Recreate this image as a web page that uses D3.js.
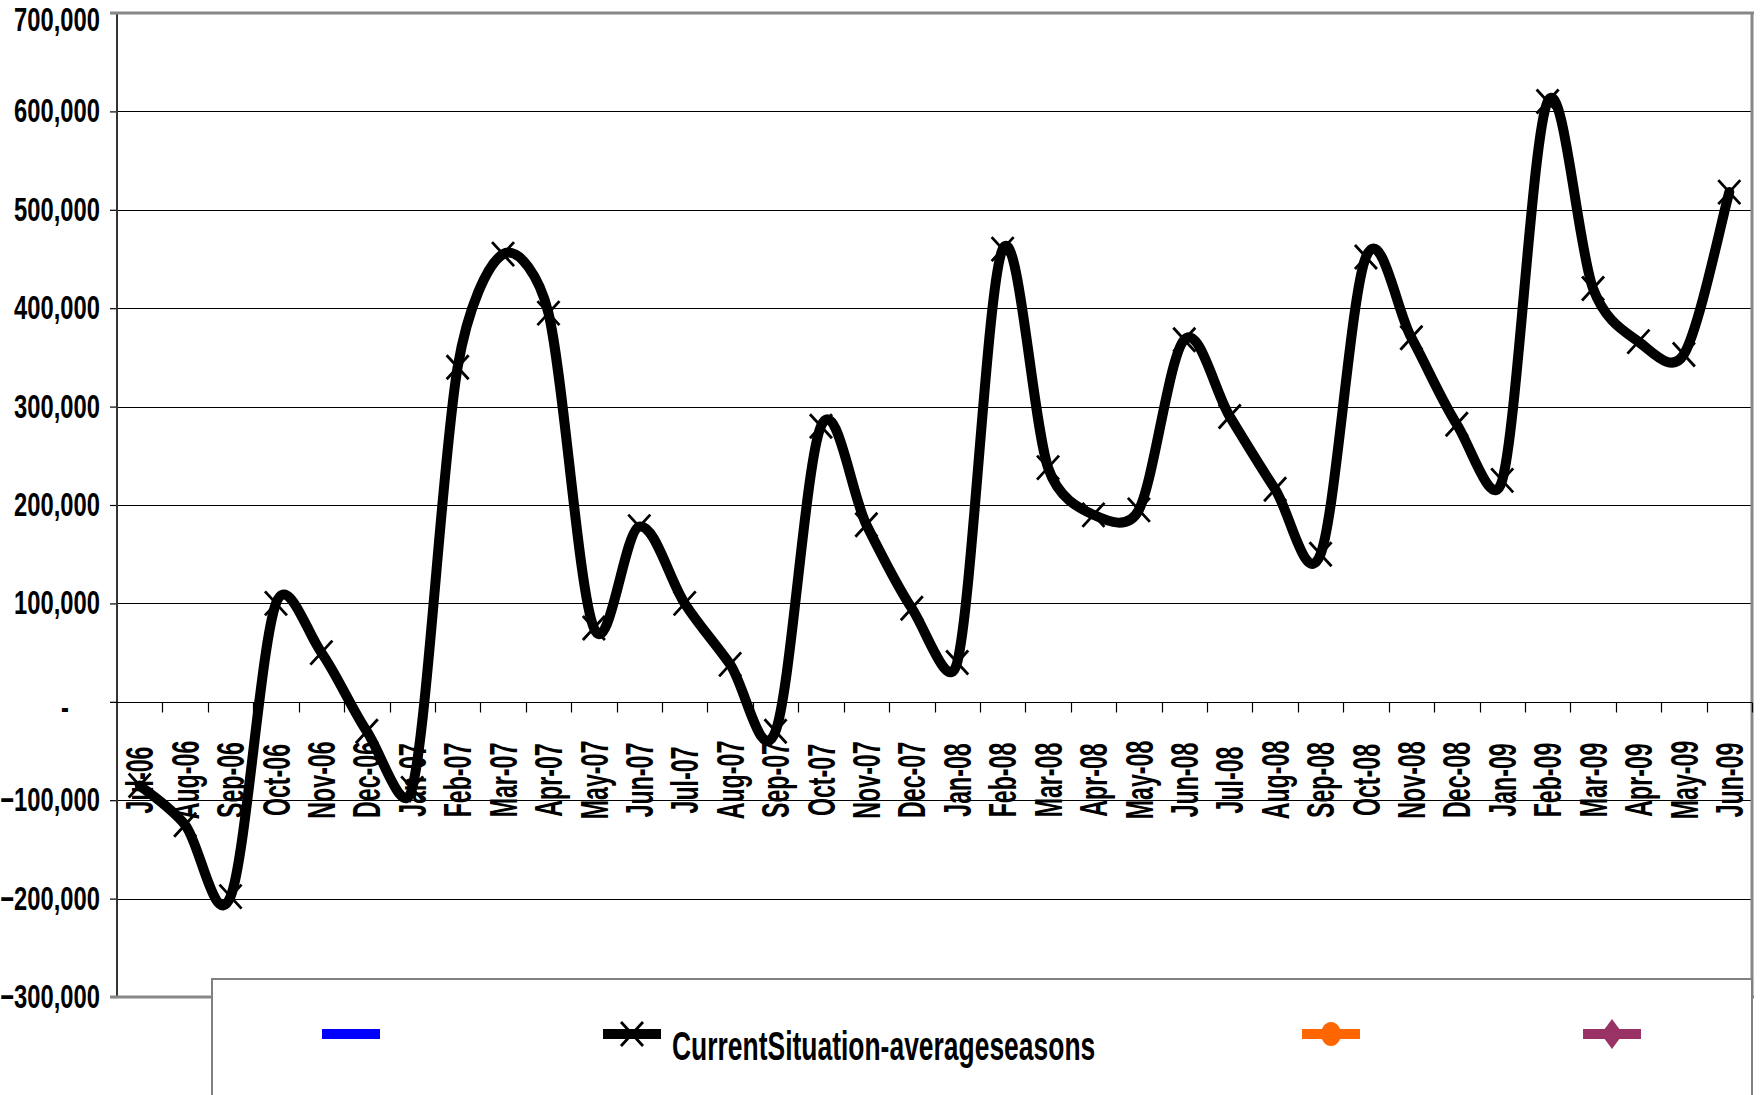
<!DOCTYPE html>
<html>
<head>
<meta charset="utf-8">
<script src="https://cdn.jsdelivr.net/npm/d3@7"></script>
<style>
  html, body { margin: 0; padding: 0; background: #fff; }
  svg { display: block; }
  text { font-family: "Liberation Sans", Arial, sans-serif; font-weight: bold; fill: #000; }
</style>
</head>
<body>
<svg id="chart" width="1764" height="1095"></svg>
<script>
// ---- data ----
const months = ["Jul-06","Aug-06","Sep-06","Oct-06","Nov-06","Dec-06","Jan-07","Feb-07","Mar-07","Apr-07","May-07","Jun-07",
  "Jul-07","Aug-07","Sep-07","Oct-07","Nov-07","Dec-07","Jan-08","Feb-08","Mar-08","Apr-08","May-08","Jun-08",
  "Jul-08","Aug-08","Sep-08","Oct-08","Nov-08","Dec-08","Jan-09","Feb-09","Mar-09","Apr-09","May-09","Jun-09"];
const currentSituation = [-85000,-125000,-198000,100000,50000,-30000,-88000,340000,455000,395000,75000,178000,
  100000,38000,-30000,280000,180000,95000,40000,460000,238000,190000,195000,368000,
  290000,216000,150000,452000,370000,282000,225000,610000,420000,366000,353000,518000];
const yTicks = [-300000,-200000,-100000,0,100000,200000,300000,400000,500000,600000,700000];
const legendNames = ["", "CurrentSituation-averageseasons", "", ""];
const legendColors = ["#0000FF", "#000000", "#FF6600", "#993366"];
const legendMarkers = ["none", "x", "circle", "diamond"];

// ---- spreadsheet-style smoothed curve for d3.line ----
function curveSheetSmooth(context) {
  let pts = [];
  return {
    areaStart() {}, areaEnd() {},
    lineStart() { pts = []; },
    point(px, py) { pts.push([+px, +py]); },
    lineEnd() {
      const n = pts.length;
      if (!n) return;
      context.moveTo(pts[0][0], pts[0][1]);
      const dist = (a, b) => Math.hypot(b[0] - a[0], b[1] - a[1]);
      for (let i = 0; i < n - 1; i++) {
        const p0 = pts[Math.max(i - 1, 0)], p1 = pts[i], p2 = pts[i + 1], p3 = pts[Math.min(i + 2, n - 1)];
        const d12 = dist(p1, p2), d02 = dist(p0, p2), d13 = dist(p1, p3);
        let f1 = 1 / 6, f2 = 1 / 6;
        if (d02 / 6 >= d12 / 2 && d02 > 0) f1 = d12 / d02 / 2;
        if (d13 / 6 >= d12 / 2 && d13 > 0) f2 = d12 / d13 / 2;
        const c1 = [p1[0] + (p2[0] - p0[0]) * f1, p1[1] + (p2[1] - p0[1]) * f1];
        const c2 = [p2[0] - (p3[0] - p1[0]) * f2, p2[1] - (p3[1] - p1[1]) * f2];
        context.bezierCurveTo(c1[0], c1[1], c2[0], c2[1], p2[0], p2[1]);
      }
    }
  };
}

// ---- layout ----
const svg = d3.select("#chart");
const X0 = 117, X1 = 1752, Y0 = 13, Y1 = 997;
const x = d3.scaleBand().domain(months).range([X0, X1]);
const y = d3.scaleLinear().domain([yTicks[0], yTicks[yTicks.length-1]]).range([Y1, Y0]);
const cx = m => x(m) + x.bandwidth() / 2;

function condense(sel, f) {
  sel.each(function () {
    const L = this.getComputedTextLength();
    this.setAttribute("textLength", L * f);
    this.setAttribute("lengthAdjust", "spacingAndGlyphs");
  });
}

// gridlines
svg.append("g").selectAll("line")
  .data(yTicks.filter(t => t !== yTicks[0] && t !== yTicks[yTicks.length-1]))
  .join("line")
  .attr("x1", X0).attr("x2", X1)
  .attr("y1", d => Math.round(y(d)) + 0.5).attr("y2", d => Math.round(y(d)) + 0.5)
  .attr("stroke", "#000").attr("stroke-width", 1.2);

// y axis
const fmt = d3.format(",");
const yAxis = svg.append("g").attr("transform", `translate(${X0},0)`)
  .call(d3.axisLeft(y).tickValues(yTicks).tickSize(7).tickPadding(10)
    .tickFormat(d => d === 0 ? "-" : fmt(d)));
yAxis.select(".domain").remove();
yAxis.selectAll(".tick line").attr("stroke", "#000").attr("stroke-width", 1.2);
yAxis.selectAll(".tick text").attr("font-size", 33).attr("font-family", "Liberation Sans, Arial, sans-serif")
  .attr("font-weight", "bold").attr("fill", "#000");
condense(yAxis.selectAll(".tick text"), 0.72);
yAxis.selectAll(".tick").filter(d => d === yTicks[yTicks.length-1]).select("text").attr("dy", "0.52em");
yAxis.selectAll(".tick").filter(d => d === 0).select("text")
  .attr("text-anchor", "middle").attr("x", -52).attr("dy", "0.52em");

// plot borders
svg.append("line").attr("x1", X0).attr("x2", X0).attr("y1", Y0).attr("y2", Y1)
  .attr("stroke", "#333").attr("stroke-width", 2);
svg.append("line").attr("x1", X0 - 7).attr("x2", X1 + 2).attr("y1", Y0).attr("y2", Y0)
  .attr("stroke", "#888").attr("stroke-width", 3);
svg.append("line").attr("x1", X0 - 7).attr("x2", X1 + 2).attr("y1", Y1).attr("y2", Y1)
  .attr("stroke", "#888").attr("stroke-width", 3);
svg.append("line").attr("x1", X1).attr("x2", X1).attr("y1", Y0).attr("y2", Y1)
  .attr("stroke", "#888").attr("stroke-width", 3);

// x axis at zero
const zy = Math.round(y(0)) + 0.5;
svg.append("line").attr("x1", X0 - 7).attr("x2", X1).attr("y1", zy).attr("y2", zy)
  .attr("stroke", "#000").attr("stroke-width", 1.2);
const bounds = months.map(m => x(m)).slice(1).concat([X1]);
svg.append("g").selectAll("line").data(bounds).join("line")
  .attr("x1", d => Math.round(d) + 0.5).attr("x2", d => Math.round(d) + 0.5)
  .attr("y1", zy).attr("y2", zy + 10)
  .attr("stroke", "#000").attr("stroke-width", 1.2);
const xl = svg.append("g").selectAll("text").data(months).join("text")
  .attr("transform", d => `translate(${cx(d)},780) rotate(-90)`)
  .attr("text-anchor", "middle").attr("dy", "0.36em")
  .attr("font-size", 38)
  .text(d => d);
condense(xl, 0.61);

// series line
const line = d3.line().x((d, i) => cx(months[i])).y(d => y(d)).curve(curveSheetSmooth);
svg.append("path").datum(currentSituation).attr("d", line)
  .attr("fill", "none").attr("stroke", "#000").attr("stroke-width", 10)
  .attr("stroke-linejoin", "round").attr("stroke-linecap", "round");

// x markers
const xMark = (px, py) => `M${px-11},${py-12}L${px+11},${py+12}M${px-11},${py+12}L${px+11},${py-12}`;
svg.append("g").selectAll("path").data(currentSituation).join("path")
  .attr("d", (d, i) => xMark(cx(months[i]), y(d)))
  .attr("stroke", "#000").attr("stroke-width", 2.8).attr("fill", "none");

// legend
const LX = 212, LY = 979;
svg.append("rect").attr("x", LX).attr("y", LY).attr("width", X1 - LX).attr("height", 200)
  .attr("fill", "#fff").attr("stroke", "#808080").attr("stroke-width", 2);
const legendX = [322, 603, 1302, 1583];
const LYc = 1034;
legendNames.forEach((name, i) => {
  const g = svg.append("g");
  const lx = legendX[i];
  g.append("line").attr("x1", lx).attr("x2", lx + 58).attr("y1", LYc).attr("y2", LYc)
    .attr("stroke", legendColors[i]).attr("stroke-width", 10);
  const mx = lx + 29;
  if (legendMarkers[i] === "x") {
    g.append("path").attr("d", xMark(mx, LYc)).attr("stroke", "#000").attr("stroke-width", 2.8);
  } else if (legendMarkers[i] === "circle") {
    g.append("ellipse").attr("cx", mx).attr("cy", LYc).attr("rx", 10).attr("ry", 12).attr("fill", legendColors[i]);
  } else if (legendMarkers[i] === "diamond") {
    g.append("path").attr("d", `M${mx},${LYc-15}L${mx+11},${LYc}L${mx},${LYc+15}L${mx-11},${LYc}Z`).attr("fill", legendColors[i]);
  }
  if (name) {
    const t = g.append("text").attr("x", lx + 69).attr("y", 1060).attr("font-size", 41).text(name);
    condense(t, 0.645);
  }
});
</script>
</body>
</html>
